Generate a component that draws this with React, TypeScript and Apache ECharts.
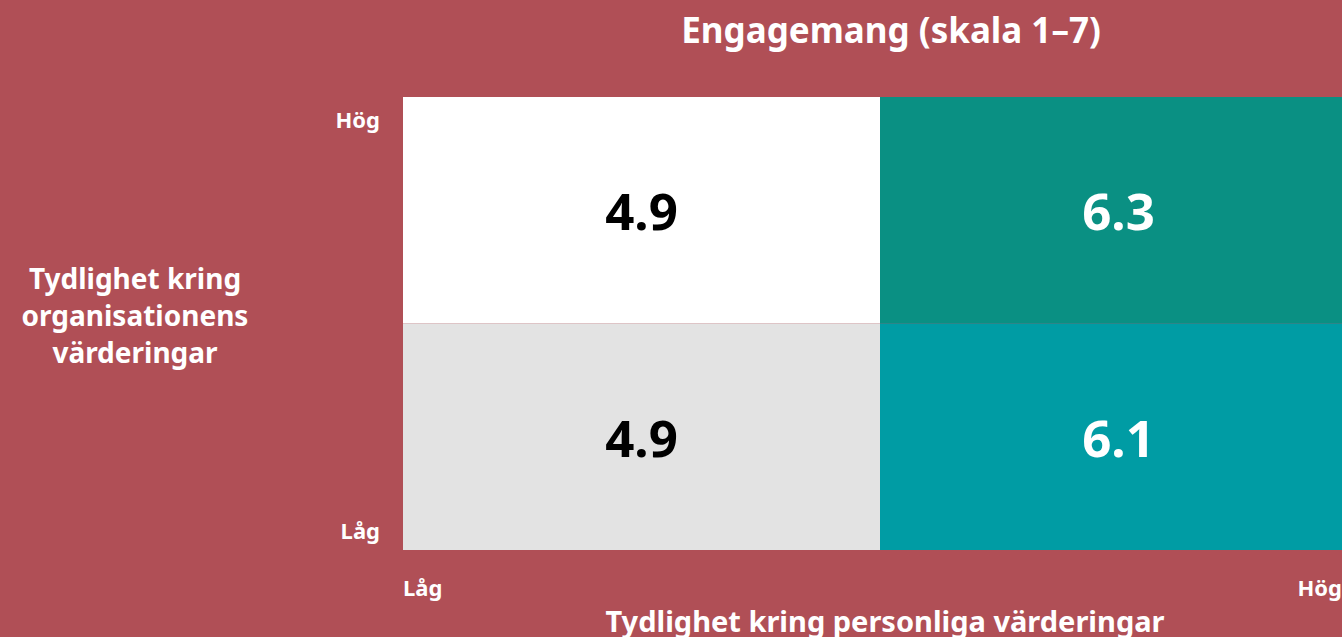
import React, { useEffect, useRef } from "react";
import * as echarts from "echarts";

const xCategories = ["Låg", "Hög"];
const yCategories = ["Låg", "Hög"];
const xTickLabels = ["Låg", "Hög"];
const yTickLabels = ["Låg", "Hög"];
// [xIndex, yIndex, value]
const cells: [number, number, number][] = [
  [0, 1, 4.9],
  [1, 1, 6.3],
  [0, 0, 4.9],
  [1, 0, 6.1],
];
const titleText = "Engagemang (skala 1–7)";
const xAxisName = "Tydlighet kring personliga värderingar";
const yAxisName = "Tydlighet kring\norganisationens\nvärderingar";

const BG = "#B04F56";
const cellColors: Record<string, string> = {
  "0-1": "#FFFFFF",
  "1-1": "#0A9083",
  "0-0": "#E3E3E3",
  "1-0": "#009CA4",
};
const labelColors: Record<string, string> = {
  "0-1": "#000000",
  "1-1": "#FFFFFF",
  "0-0": "#000000",
  "1-0": "#FFFFFF",
};
const FONT = "Noto Sans";

export default function App() {
  const ref = useRef<HTMLDivElement>(null);
  useEffect(() => {
    document.body.style.margin = "0";
    document.body.style.overflow = "hidden";
    const chart = echarts.init(ref.current!, null, { renderer: "svg" });
    chart.setOption({
      animation: false,
      backgroundColor: BG,
      textStyle: { fontFamily: FONT },
      title: [
        {
          text: titleText,
          left: 886,
          top: 7,
          textAlign: "center",
          textStyle: { color: "#fff", fontSize: 35, fontWeight: "bold", fontFamily: FONT },
        },
        {
          text: yAxisName,
          left: 130,
          top: 254,
          textAlign: "center",
          textStyle: {
            color: "#fff",
            fontSize: 28,
            fontWeight: "bold",
            fontFamily: FONT,
            lineHeight: 37,
          },
        },
      ],
      grid: { left: 403, right: -15, top: 97, bottom: 87, containLabel: false, outerBoundsMode: "none" },
      xAxis: [
        {
          type: "category",
          data: xCategories,
          show: false,
        },
        {
          type: "value",
          min: 0,
          max: 1,
          interval: 1,
          position: "bottom",
          axisLine: { show: false },
          axisTick: { show: false },
          splitLine: { show: false },
          axisLabel: {
            color: "#fff",
            fontSize: 22,
            fontWeight: "bold",
            margin: 26,
            alignMinLabel: "left",
            alignMaxLabel: "right",
            padding: [0, 15, 0, 0],
            formatter: (v: number) => xTickLabels[Math.round(v)],
          },
          name: xAxisName,
          nameLocation: "middle",
          nameGap: 70,
          nameTextStyle: {
            color: "#fff",
            fontSize: 29,
            fontWeight: "bold",
            fontFamily: FONT,
            verticalAlign: "middle",
            padding: [0, 0, 0, 10],
          },
        },
      ],
      yAxis: [
        {
          type: "category",
          data: yCategories,
          show: false,
        },
        {
          type: "value",
          min: 0,
          max: 1,
          interval: 1,
          position: "left",
          axisLine: { show: false },
          axisTick: { show: false },
          splitLine: { show: false },
          axisLabel: {
            color: "#fff",
            fontSize: 22,
            fontWeight: "bold",
            margin: 23,
            verticalAlignMinLabel: "bottom",
            verticalAlignMaxLabel: "top",
            padding: [11, 0, 9, 0],
            formatter: (v: number) => yTickLabels[Math.round(v)],
          },
        },
      ],
      series: [
        {
          type: "custom",
          xAxisIndex: 0,
          yAxisIndex: 0,
          data: cells,
          encode: { x: 0, y: 1 },
          renderItem: (params: any, api: any) => {
            const xi = api.value(0);
            const yi = api.value(1);
            const v = api.value(2);
            const c = api.coord([xi, yi]);
            const s = api.size([1, 1]);
            const key = `${xi}-${yi}`;
            return {
              type: "group",
              children: [
                {
                  type: "rect",
                  shape: { x: c[0] - s[0] / 2, y: c[1] - s[1] / 2, width: s[0], height: s[1] },
                  style: { fill: cellColors[key] },
                },
                {
                  type: "text",
                  style: {
                    text: Number(v).toFixed(1),
                    x: c[0],
                    y: c[1],
                    align: "center",
                    verticalAlign: "middle",
                    fill: labelColors[key],
                    font: `bold 51px ${FONT}`,
                  },
                },
              ],
            };
          },
        },
      ],
    });
    return () => chart.dispose();
  }, []);
  return <div ref={ref} style={{ width: 1342, height: 637 }} />;
}
